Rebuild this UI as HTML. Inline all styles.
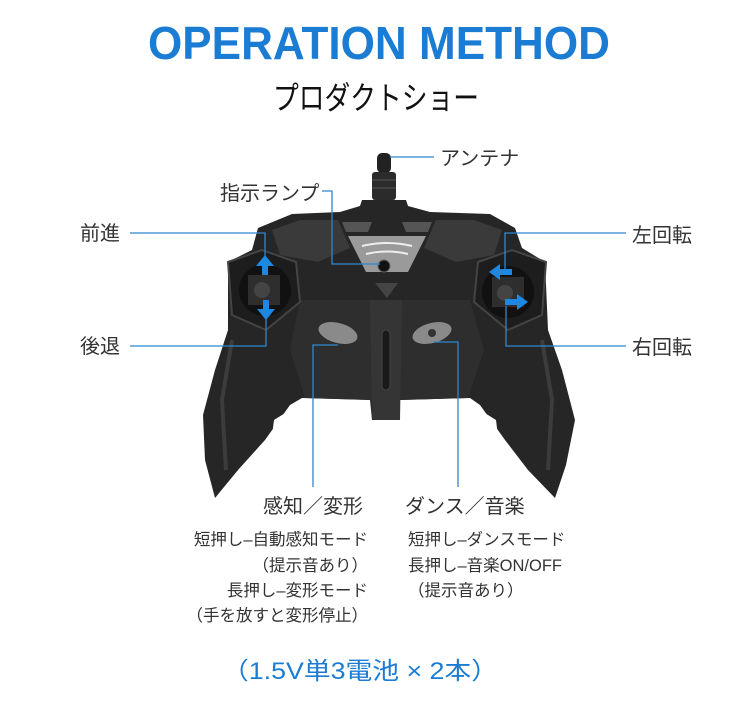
<!DOCTYPE html>
<html><head><meta charset="utf-8"><style>
html,body{margin:0;padding:0;background:#fff;}
svg{display:block;}
text{font-family:"Liberation Sans","Noto Sans CJK JP",sans-serif;}
</style></head><body>
<svg width="750" height="704" viewBox="0 0 750 704" xmlns="http://www.w3.org/2000/svg">
<text x="379" y="59" text-anchor="middle" font-size="46" font-weight="bold" fill="#1b7cd3" textLength="462" lengthAdjust="spacingAndGlyphs">OPERATION METHOD</text>
<text x="376" y="109" text-anchor="middle" font-size="32" fill="#111" textLength="206" lengthAdjust="spacingAndGlyphs">プロダクトショー</text>

<!-- antenna -->
<rect x="377" y="153" width="14" height="20" rx="5" fill="#222"/>
<rect x="372" y="172" width="24" height="28" rx="3" fill="#2b2b2b"/>
<line x1="372" y1="180" x2="396" y2="180" stroke="#555"/><line x1="372" y1="188" x2="396" y2="188" stroke="#555"/>
<polygon points="362,200 406,200 412,218 356,218" fill="#262626"/>

<!-- body silhouette -->
<polygon fill="#262626" points="258,228 292,214 340,212 360,206 408,206 430,212 490,214 515,228 522,248 545,262 548,330 562,370 575,420 566,465 555,498 528,470 505,440 480,405 470,398 400,400 398,420 372,420 370,400 302,398 290,405 265,440 238,470 215,498 205,460 203,415 215,370 228,330 228,262 252,250"/>
<polygon fill="#3a3a3a" points="272,230 300,220 338,220 350,248 318,262 280,255"/>
<polygon fill="#3a3a3a" points="502,230 474,220 436,220 424,248 456,262 494,255"/>
<polygon fill="#9a9a9a" points="348,236 426,236 408,272 366,272"/>
<polygon fill="#555" points="342,222 372,222 368,232 346,232"/>
<polygon fill="#555" points="402,222 432,222 428,232 406,232"/>
<path d="M362 246 Q387 240 412 246 M366 254 Q387 249 408 254" stroke="#eee" stroke-width="2" fill="none"/>
<circle cx="384" cy="266" r="6" fill="#111" stroke="#666"/>
<polygon fill="#2e2e2e" points="300,300 370,300 372,400 305,398 290,350"/>
<polygon fill="#2e2e2e" points="470,300 402,300 400,400 468,398 484,350"/>
<polygon fill="#353535" points="370,300 402,300 400,420 372,420"/>
<rect x="382" y="330" width="8" height="60" rx="4" fill="#1a1a1a" stroke="#444"/>
<polygon fill="#444" points="375,283 398,283 387,298"/>
<ellipse cx="338" cy="333" rx="20" ry="10" fill="#8a8a8a" transform="rotate(15 338 333)"/>
<ellipse cx="432" cy="333" rx="20" ry="10" fill="#8a8a8a" transform="rotate(-15 432 333)"/>
<circle cx="432" cy="333" r="4" fill="#333"/>
<path d="M232 340 L222 400 L226 470" stroke="#3c3c3c" stroke-width="4" fill="none"/>
<path d="M542 340 L552 400 L548 470" stroke="#3c3c3c" stroke-width="4" fill="none"/>
<polygon fill="#fff" points="274,420 290,410 292,450 280,470 268,468"/>
<polygon fill="#fff" points="496,420 480,410 478,450 490,470 502,468"/>
<polygon fill="#1d1d1d" stroke="#444" stroke-width="2" points="228,262 262,250 296,262 300,302 266,330 232,315"/>
<circle cx="265" cy="290" r="26" fill="#111"/>
<rect x="248" y="275" width="32" height="30" fill="#2e2e2e"/>
<circle cx="262" cy="290" r="8" fill="#444"/>
<polygon fill="#1d1d1d" stroke="#444" stroke-width="2" points="546,262 512,250 478,262 474,302 508,330 542,315"/>
<circle cx="508" cy="292" r="26" fill="#111"/>
<rect x="492" y="277" width="32" height="30" fill="#2e2e2e"/>
<circle cx="505" cy="293" r="8" fill="#444"/>

<g stroke="#2f86cf" stroke-width="1.3" fill="none">
<polyline points="390,157 434,157"/>
<polyline points="322,191 332,191 332,264 380,264"/>
<polyline points="130,233 265,233 265,258"/>
<polyline points="130,346 266,346 266,318"/>
<polyline points="626,233 505,233 505,270"/>
<polyline points="626,346 506,346 506,306"/>
<polyline points="313,487 313,345 338,345"/>
<polyline points="458,487 458,342 434,342"/>
</g>
<g fill="#1e88e0">
<polygon points="265,255 256,266 262,266 262,275 268,275 268,266 274,266"/>
<polygon points="266,320 257,309 263,309 263,300 269,300 269,309 275,309"/>
<polygon points="489,272 500,264 500,269 512,269 512,275 500,275 500,280"/>
<polygon points="528,302 517,294 517,299 505,299 505,305 517,305 517,310"/>
</g>

<g font-size="20" fill="#333">
<text x="440" y="165">アンテナ</text>
<text x="220" y="200">指示ランプ</text>
<text x="80" y="240">前進</text>
<text x="80" y="353">後退</text>
<text x="632" y="242">左回転</text>
<text x="632" y="354">右回転</text>
<text x="263" y="513">感知／変形</text>
<text x="405" y="513">ダンス／音楽</text>
</g>
<g font-size="16.5" fill="#333">
<text x="368" y="545" text-anchor="end">短押し–自動感知モード</text>
<text x="368" y="571" text-anchor="end">（提示音あり）</text>
<text x="368" y="596" text-anchor="end">長押し–変形モード</text>
<text x="368" y="621" text-anchor="end">（手を放すと変形停止）</text>
<text x="408" y="545">短押し–ダンスモード</text>
<text x="408" y="571">長押し–音楽ON/OFF</text>
<text x="408" y="596">（提示音あり）</text>
</g>
<text x="360" y="679" text-anchor="middle" font-size="24" fill="#1b7cd3" textLength="276" lengthAdjust="spacingAndGlyphs">（1.5V単3電池 × 2本）</text>
</svg>
</body></html>
